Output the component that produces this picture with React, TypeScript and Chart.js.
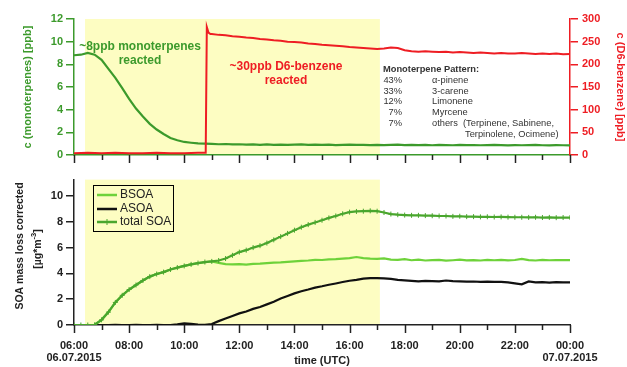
import React, { useEffect, useRef } from 'react';
import { Chart, registerables } from 'chart.js';

Chart.register(...registerables);

const FONT = "Arial, 'Liberation Sans', Helvetica, sans-serif";

// time axis: hours after 06:00 on 06.07.2015 (0 .. 18 -> 06:00 .. 00:00)
const X_MIN = 0;
const X_MAX = 18;
const STEP_H = 0.25;
const SHADE_START = 0.4;
const SHADE_END = 11.1;

const GREEN_TOP = '#3c9a2c';
const RED = '#ee1d23';
const BSOA_COLOR = '#6ed23a';
const TOTAL_COLOR = '#4aa62e';
const ASOA_COLOR = '#111111';
const YELLOW = '#fdfdc2';
const DARK = '#222222';

// monoterpenes [ppb], every 15 min from 06:00
const MONO_VALUES = [
  8.8, 8.85, 9.0, 8.85, 8.4, 7.6, 6.8, 5.9, 4.95, 4.1, 3.4, 2.75, 2.25, 1.85, 1.5, 1.3,
  1.15, 1.08, 1.02, 1.0, 0.98, 0.95, 0.97, 0.93, 0.95, 0.92, 0.94, 0.9, 0.93, 0.9, 0.92, 0.89,
  0.91, 0.93, 0.9, 0.92, 0.89, 0.91, 0.88, 0.9, 0.92, 0.89, 0.9, 0.88, 0.9, 0.87, 0.89, 0.91,
  0.88, 0.9, 0.87, 0.89, 0.86, 0.9, 0.88, 0.86, 0.89, 0.87, 0.88, 0.86, 0.88, 0.9, 0.87, 0.85,
  0.88, 0.86, 0.87, 0.89, 0.86, 0.85, 0.87, 0.86, 0.85,
];

// D6-benzene [ppb]
const RED_TIMES = [
  0, 0.5, 1, 1.5, 2, 2.5, 3, 3.5, 4, 4.5, 4.78, 4.82, 4.88, 4.95, 5.0,
  5.25, 5.5, 5.75, 6.0, 6.25, 6.5, 6.75, 7.0, 7.25, 7.5, 7.75, 8.0, 8.25, 8.5, 8.75, 9.0,
  9.25, 9.5, 9.75, 10.0, 10.25, 10.5, 10.75, 11.0, 11.25, 11.5, 11.75, 12.0, 12.25, 12.5, 12.75, 13.0,
  13.25, 13.5, 13.75, 14.0, 14.25, 14.5, 14.75, 15.0, 15.25, 15.5, 15.75, 16.0, 16.25, 16.5, 16.75, 17.0,
  17.25, 17.5, 17.75, 18.0,
];
const RED_VALUES = [
  4, 5, 4, 5, 4, 4, 5, 4, 4, 5, 5, 282, 270, 267, 267,
  265, 264, 262, 261, 259, 258, 256, 255, 253, 252, 250, 249, 248, 246, 245, 243,
  242, 241, 240, 238, 237, 236, 235, 234, 235, 237, 236, 231, 229, 228, 229, 228,
  227, 228, 226, 227, 226, 225, 226, 225, 224, 225, 224, 224, 225, 224, 223, 224,
  223, 224, 222, 223,
];

// SOA mass loss corrected [µg m-3], every 15 min from 06:00
const TOTAL_VALUES = [
  0, 0, 0, 0.02, 0.4, 1.0, 1.75, 2.3, 2.75, 3.1, 3.45, 3.75, 3.95, 4.1, 4.3, 4.45,
  4.58, 4.7, 4.8, 4.88, 4.93, 5.0, 5.15, 5.4, 5.65, 5.8, 6.0, 6.15, 6.35, 6.6, 6.85, 7.1,
  7.35, 7.58, 7.78, 7.95, 8.12, 8.3, 8.45, 8.62, 8.75, 8.8, 8.82, 8.85, 8.82, 8.72, 8.6, 8.55,
  8.52, 8.5, 8.5, 8.48, 8.47, 8.45, 8.45, 8.42, 8.43, 8.4, 8.4, 8.38, 8.39, 8.37, 8.38, 8.36,
  8.35, 8.35, 8.34, 8.35, 8.33, 8.34, 8.32, 8.33, 8.33,
];
const BSOA_VALUES = [
  0, 0, 0, 0.02, 0.4, 1.0, 1.75, 2.3, 2.75, 3.1, 3.45, 3.75, 3.95, 4.1, 4.3, 4.45,
  4.58, 4.7, 4.8, 4.88, 4.93, 4.82, 4.72, 4.7, 4.72, 4.68, 4.74, 4.76, 4.8, 4.84, 4.86, 4.9,
  4.93, 4.97, 5.0, 5.05, 5.04, 5.08, 5.1, 5.14, 5.18, 5.27, 5.18, 5.14, 5.12, 5.16, 5.07, 5.05,
  5.1, 5.02, 5.06, 5.0, 5.03, 5.05, 4.99, 5.02, 5.06, 5.01, 5.03, 5.0, 5.04, 5.02, 5.05, 5.01,
  5.04, 5.12, 5.03, 5.0, 5.05, 5.02, 5.04, 5.03, 5.03,
];
const ASOA_VALUES = [
  null, null, null, 0, 0, 0, 0.01, 0, 0, 0.01, 0, 0, 0.01, 0, 0, 0.05,
  0.12, 0.08, 0.03, 0.01, 0.08, 0.3, 0.5, 0.7, 0.9, 1.05, 1.25, 1.4, 1.6, 1.8, 2.05, 2.25,
  2.45, 2.62, 2.75, 2.9, 3.0, 3.12, 3.22, 3.33, 3.43, 3.5, 3.6, 3.63, 3.64, 3.62, 3.57, 3.5,
  3.46, 3.42, 3.38, 3.42, 3.4, 3.38, 3.45, 3.4, 3.38, 3.36, 3.37, 3.35, 3.36, 3.34, 3.35, 3.3,
  3.22, 3.15, 3.38, 3.3, 3.32, 3.28, 3.33, 3.3, 3.3,
];

const PATTERN_TITLE = 'Monoterpene Pattern:';
const PATTERN_PCT = ['43%', '33%', '12%', '7%', '7%'];
const PATTERN_NAMES = ['α-pinene', '3-carene', 'Limonene', 'Myrcene', 'others  (Terpinene, Sabinene,'];
const PATTERN_CONT = 'Terpinolene, Ocimene)';

const LEGEND_ITEMS = ['BSOA', 'ASOA', 'total SOA'];

function series(values: (number | null)[]) {
  return values.map((v, i) => ({ x: i * STEP_H, y: v }));
}

function pairs(times: number[], values: number[]) {
  return times.map((t, i) => ({ x: t, y: values[i] }));
}

function hourLabel(v: number) {
  const h = (6 + v) % 24;
  return (h < 10 ? '0' : '') + h + ':00';
}

function rotText(ctx: CanvasRenderingContext2D, text: string, x: number, y: number, angle: number, font: string, color: string) {
  ctx.save();
  ctx.translate(x, y);
  ctx.rotate(angle);
  ctx.font = font;
  ctx.fillStyle = color;
  ctx.textAlign = 'center';
  ctx.textBaseline = 'middle';
  ctx.fillText(text, 0, 0);
  ctx.restore();
}

const shadePlugin = {
  id: 'shade',
  beforeDraw(chart: any) {
    const { ctx, chartArea, scales } = chart;
    const x0 = scales.x.getPixelForValue(SHADE_START);
    const x1 = scales.x.getPixelForValue(SHADE_END);
    ctx.save();
    ctx.fillStyle = YELLOW;
    ctx.fillRect(x0, chartArea.top, x1 - x0, chartArea.bottom - chartArea.top);
    ctx.restore();
  },
};

const xTickPlugin = {
  id: 'xticks',
  afterDraw(chart: any) {
    const { ctx, chartArea, scales } = chart;
    const s = scales.x;
    ctx.save();
    ctx.strokeStyle = DARK;
    ctx.lineWidth = 1.5;
    for (let h = X_MIN; h <= X_MAX; h += 1) {
      const x = Math.round(s.getPixelForValue(h)) + 0.5;
      const len = h % 2 === 0 ? 8 : 5;
      ctx.beginPath();
      ctx.moveTo(x, chartArea.bottom);
      ctx.lineTo(x, chartArea.bottom + len);
      ctx.stroke();
    }
    ctx.restore();
  },
};

const topTextPlugin = {
  id: 'topText',
  afterDraw(chart: any) {
    const ctx: CanvasRenderingContext2D = chart.ctx;
    rotText(ctx, 'c (monoterpenes) [ppb]', 28, 87, -Math.PI / 2, `bold 11px ${FONT}`, GREEN_TOP);
    rotText(ctx, 'c (D6-benzene) [ppb]', 620, 87, Math.PI / 2, `bold 11px ${FONT}`, RED);

    ctx.save();
    ctx.textAlign = 'center';
    ctx.textBaseline = 'middle';
    ctx.font = `bold 12px ${FONT}`;
    ctx.fillStyle = GREEN_TOP;
    ctx.fillText('~8ppb monoterpenes', 140, 47);
    ctx.fillText('reacted', 140, 61);
    ctx.fillStyle = RED;
    ctx.fillText('~30ppb D6-benzene', 286, 67);
    ctx.fillText('reacted', 286, 81);

    ctx.textAlign = 'left';
    ctx.fillStyle = '#333333';
    ctx.font = `bold 9.3px ${FONT}`;
    ctx.fillText(PATTERN_TITLE, 383, 69);
    ctx.font = `9.3px ${FONT}`;
    const rows = [80, 91, 101.5, 112.5, 123.5];
    PATTERN_PCT.forEach((p, i) => {
      ctx.textAlign = 'right';
      ctx.fillText(p, 402, rows[i]);
      ctx.textAlign = 'left';
      ctx.fillText(PATTERN_NAMES[i], 432, rows[i]);
    });
    ctx.fillText(PATTERN_CONT, 465, 134.5);
    ctx.restore();
  },
};

const bottomTextPlugin = {
  id: 'bottomText',
  afterDraw(chart: any) {
    const ctx: CanvasRenderingContext2D = chart.ctx;
    rotText(ctx, 'SOA mass loss corrected', 20, 76, -Math.PI / 2, `bold 10.5px ${FONT}`, DARK);

    // second title line with superscript
    ctx.save();
    ctx.translate(38, 79);
    ctx.rotate(-Math.PI / 2);
    ctx.fillStyle = DARK;
    ctx.textBaseline = 'middle';
    ctx.textAlign = 'left';
    const mainF = `bold 10.5px ${FONT}`;
    const supF = `bold 7.5px ${FONT}`;
    ctx.font = mainF;
    const w1 = ctx.measureText('[µg*m').width;
    const w3 = ctx.measureText(']').width;
    ctx.font = supF;
    const w2 = ctx.measureText('-3').width;
    let x = -(w1 + w2 + w3) / 2;
    ctx.font = mainF;
    ctx.fillText('[µg*m', x, 0);
    x += w1;
    ctx.font = supF;
    ctx.fillText('-3', x, -4);
    x += w2;
    ctx.font = mainF;
    ctx.fillText(']', x, 0);
    ctx.restore();

    // legend
    ctx.save();
    ctx.strokeStyle = '#000';
    ctx.lineWidth = 1;
    ctx.strokeRect(93.5, 15.5, 80, 46);
    const rows = [25, 39, 52];
    const cols = [BSOA_COLOR, ASOA_COLOR, TOTAL_COLOR];
    ctx.font = `12px ${FONT}`;
    ctx.textBaseline = 'middle';
    ctx.textAlign = 'left';
    LEGEND_ITEMS.forEach((t, i) => {
      ctx.strokeStyle = cols[i];
      ctx.lineWidth = 2.5;
      ctx.beginPath();
      ctx.moveTo(97, rows[i]);
      ctx.lineTo(117, rows[i]);
      ctx.stroke();
      if (i === 2) {
        ctx.lineWidth = 1;
        ctx.beginPath();
        ctx.moveTo(107, rows[i] - 3);
        ctx.lineTo(107, rows[i] + 3);
        ctx.stroke();
      }
      ctx.fillStyle = DARK;
      ctx.fillText(t, 120, rows[i]);
    });
    ctx.font = `bold 11px ${FONT}`;
    ctx.textAlign = 'center';
    ctx.fillText('time (UTC)', 322, 191);
    ctx.restore();
  },
};

const tickFont = { family: FONT, size: 11, weight: 'bold' as const };

export default function App() {
  const topRef = useRef<HTMLCanvasElement>(null);
  const botRef = useRef<HTMLCanvasElement>(null);

  useEffect(() => {
    const top = new Chart(topRef.current as HTMLCanvasElement, {
      type: 'line',
      data: {
        datasets: [
          {
            data: pairs(RED_TIMES, RED_VALUES),
            yAxisID: 'yr',
            borderColor: RED,
            borderWidth: 2,
            pointRadius: 0,
            tension: 0,
          },
          {
            data: series(MONO_VALUES),
            yAxisID: 'y',
            borderColor: GREEN_TOP,
            borderWidth: 2.2,
            pointRadius: 0,
            tension: 0,
          },
        ],
      },
      options: {
        animation: false,
        responsive: false,
        devicePixelRatio: 1,
        events: [],
        layout: { padding: { top: 19, left: 0, right: 0, bottom: 0 } },
        plugins: { legend: { display: false }, tooltip: { enabled: false } },
        scales: {
          x: {
            type: 'linear',
            min: X_MIN,
            max: X_MAX,
            ticks: { display: false, stepSize: 1 },
            grid: { display: false },
            border: { display: true, color: GREEN_TOP, width: 1.5 },
            afterFit: (s: any) => { s.height = 15; },
          },
          y: {
            position: 'left',
            min: 0,
            max: 12,
            ticks: { stepSize: 2, color: GREEN_TOP, font: tickFont, padding: 3 },
            grid: { drawOnChartArea: false, color: GREEN_TOP, tickLength: 8, lineWidth: 1.5 },
            border: { color: GREEN_TOP, width: 1.5 },
            afterFit: (s: any) => { s.width = 74; },
          },
          yr: {
            position: 'right',
            min: 0,
            max: 300,
            ticks: { stepSize: 50, color: RED, font: tickFont, padding: 4 },
            grid: { drawOnChartArea: false, color: RED, tickLength: 8, lineWidth: 1.5 },
            border: { color: RED, width: 1.5 },
            afterFit: (s: any) => { s.width = 57; },
          },
        },
      } as any,
      plugins: [shadePlugin, xTickPlugin, topTextPlugin],
    });

    const bot = new Chart(botRef.current as HTMLCanvasElement, {
      type: 'line',
      data: {
        datasets: [
          {
            data: series(TOTAL_VALUES),
            borderColor: TOTAL_COLOR,
            borderWidth: 2.2,
            pointStyle: 'cross',
            pointRadius: 2.5,
            pointBorderWidth: 1,
            pointBorderColor: TOTAL_COLOR,
            tension: 0,
          },
          {
            data: series(BSOA_VALUES),
            borderColor: BSOA_COLOR,
            borderWidth: 2.2,
            pointRadius: 0,
            tension: 0,
          },
          {
            data: series(ASOA_VALUES),
            borderColor: ASOA_COLOR,
            borderWidth: 2.2,
            pointRadius: 0,
            tension: 0,
          },
        ],
      },
      options: {
        animation: false,
        responsive: false,
        devicePixelRatio: 1,
        events: [],
        layout: { padding: { top: 7, left: 0, right: 57, bottom: 0 } },
        plugins: { legend: { display: false }, tooltip: { enabled: false } },
        scales: {
          x: {
            type: 'linear',
            min: X_MIN,
            max: X_MAX,
            ticks: {
              stepSize: 1,
              autoSkip: false,
              maxRotation: 0,
              color: DARK,
              font: { ...tickFont, lineHeight: 1.1 },
              padding: 7,
              callback: (v: any) => {
                const n = Number(v);
                if (n % 2 !== 0) return '';
                if (n === X_MIN) return [hourLabel(n), '06.07.2015'];
                if (n === X_MAX) return [hourLabel(n), '07.07.2015'];
                return hourLabel(n);
              },
            },
            grid: { display: false },
            border: { display: true, color: DARK, width: 1.5 },
            afterFit: (s: any) => { s.height = 42; },
          },
          y: {
            position: 'left',
            min: 0,
            max: 11.27,
            ticks: { stepSize: 2, color: DARK, font: tickFont, padding: 3, includeBounds: false },
            grid: { drawOnChartArea: false, color: DARK, tickLength: 8, lineWidth: 1.5 },
            border: { color: DARK, width: 1.5 },
            afterFit: (s: any) => { s.width = 74; },
          },
        },
      } as any,
      plugins: [shadePlugin, xTickPlugin, bottomTextPlugin],
    });

    return () => {
      top.destroy();
      bot.destroy();
    };
  }, []);

  return (
    <div style={{ position: 'absolute', left: 0, top: 0, width: 627, height: 367, background: '#ffffff' }}>
      <canvas ref={topRef} width={627} height={170} style={{ position: 'absolute', left: 0, top: 0 }} />
      <canvas ref={botRef} width={627} height={197} style={{ position: 'absolute', left: 0, top: 170 }} />
    </div>
  );
}
